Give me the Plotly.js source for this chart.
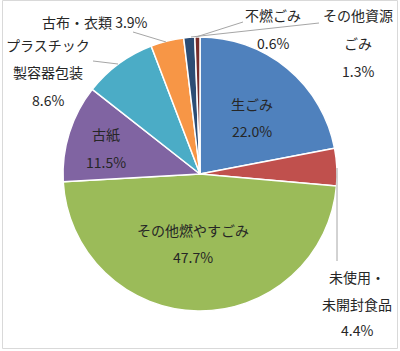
<!DOCTYPE html>
<html>
<head>
<meta charset="utf-8">
<script src="https://cdn.plot.ly/plotly-3.0.1.min.js"></script>
<style>html,body{margin:0;padding:0;background:#fff;}#chart{width:400px;height:351px;}</style>
</head>
<body>
<div id="chart"></div>
<script>
// Data (clockwise from 12 o'clock)
const categories = ["生ごみ", "未使用・未開封食品", "その他燃やすごみ", "古紙", "プラスチック製容器包装", "古布・衣類", "その他資源ごみ", "不燃ごみ"];
const values = [22.0, 4.4, 47.7, 11.5, 8.6, 3.9, 1.3, 0.6];
const colors = ["#4F81BD", "#C0504D", "#9BBB59", "#8064A2", "#4BACC6", "#F79646", "#2C4D75", "#772C2A"];
// Label lines as displayed (last line gets the percentage appended where shown)
const labelLines = [
  ["生ごみ"],
  ["未使用・", "未開封食品"],
  ["その他燃やすごみ"],
  ["古紙"],
  ["プラスチック", "製容器包装"],
  ["古布・衣類"],
  ["その他資源", "ごみ"],
  ["不燃ごみ"]
];
const W = 400, H = 351;
const px = x => x / W, py = y => 1 - y / H;
// label anchor (center of first line) in pixels, line spacing, and whether % is on same line
const labelPos = [
  {x: 252, y: 104, dy: 27, inline: false},
  {x: 357, y: 277, dy: 26.5, inline: false},
  {x: 193, y: 230, dy: 27, inline: false},
  {x: 106, y: 134, dy: 27.5, inline: false},
  {x: 48, y: 45, dy: 27.5, inline: false},
  {x: 95, y: 22, dy: 0, inline: true},
  {x: 358, y: 15, dy: 28, inline: false},
  {x: 273, y: 15, dy: 28, inline: false}
];
const font = {family: "Noto Sans CJK JP, sans-serif", size: 14, color: "#262626"};
const annotations = [];
categories.forEach((c, i) => {
  const p = labelPos[i];
  const pct = values[i].toFixed(1) + "%";
  let lines = labelLines[i].slice();
  if (p.inline) { lines[lines.length - 1] += " " + pct; } else { lines.push(pct); }
  lines.forEach((t, k) => {
    annotations.push({xref: "paper", yref: "paper", x: px(p.x), y: py(p.y + k * p.dy),
      text: t, showarrow: false, xanchor: "center", yanchor: "middle", font: font});
  });
});
const lineStyle = {color: "#A6A6A6", width: 1};
const seg = (x0, y0, x1, y1) => ({type: "line", xref: "paper", yref: "paper",
  x0: px(x0), y0: py(y0), x1: px(x1), y1: py(y1), line: lineStyle});
const shapes = [
  {type: "rect", xref: "paper", yref: "paper", x0: px(2.5), y0: py(348.5), x1: px(397.5), y1: py(0.5),
   line: {color: "#D9D9D9", width: 1}},
  seg(337, 168, 337, 261),
  seg(133, 32, 166, 42),
  seg(93, 61, 118, 64),
  seg(196, 37, 243, 22),
  seg(191, 37, 319, 23)
];
const trace = {
  type: "pie", labels: categories, values: values, sort: false, direction: "clockwise", rotation: 0,
  marker: {colors: colors, line: {color: "#FFFFFF", width: 1.5}},
  textinfo: "none", hoverinfo: "label+percent", showlegend: false,
  domain: {x: [63 / W, 337 / W], y: [1 - 311 / H, 1 - 37 / H]}
};
Plotly.newPlot("chart", [trace], {
  width: W, height: H, margin: {l: 0, r: 0, t: 0, b: 0},
  paper_bgcolor: "#FFFFFF", showlegend: false, annotations: annotations, shapes: shapes
}, {displayModeBar: false, staticPlot: true});
</script>
</body>
</html>
